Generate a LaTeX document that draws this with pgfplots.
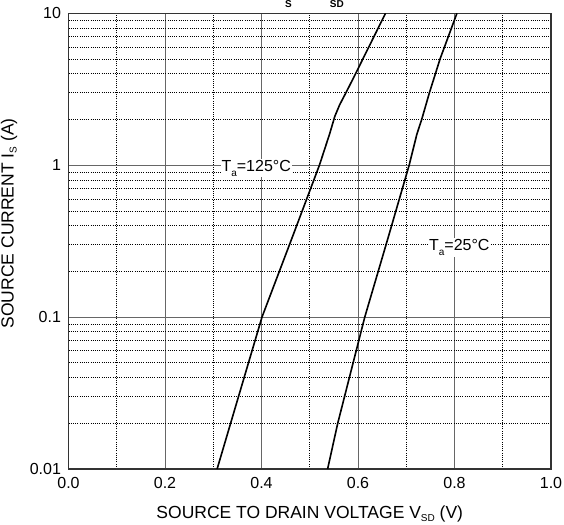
\documentclass[border=0pt]{standalone}
\usepackage{pgfplots}
\pgfplotsset{compat=1.18}
\usepackage{fontspec}
\setmainfont{Liberation Sans}

\begin{document}
\begin{tikzpicture}
\begin{axis}[
    name=ax,
    scale only axis,
    width=482.5pt, height=455.7pt,
    ymode=log,
    xmin=0, xmax=1, ymin=0.01, ymax=10,
    xtick={0,0.2,0.4,0.6,0.8,1},
    xticklabels={0.0,0.2,0.4,0.6,0.8,1.0},
    minor xtick={0.1,0.3,0.5,0.7,0.9},
    ytick={0.01,0.1,1,10},
    yticklabels={0.01,0.1,1,10},
    minor ytick={0.02,0.03,0.04,0.05,0.06,0.07,0.08,0.09,
                 0.2,0.3,0.4,0.5,0.6,0.7,0.8,0.9,
                 2,3,4,5,6,7,8,9},
    grid=both,
    major grid style={line width=0.9pt, black!60},
    minor grid style={line width=0.7pt, black, dash pattern=on 1pt off 1.2pt},
    major tick length=0pt, minor tick length=0pt,
    axis line style={line width=1.2pt, black!80},
    tick label style={font=\fontsize{16}{16}\selectfont},
    /pgf/number format/assume math mode=true,
    xticklabel style={yshift=-5pt},
    yticklabel style={xshift=-4pt},
]
% Ta = 125 C
\addplot[black, line width=1.6pt] coordinates {
    (0.308,0.01) (0.401,0.1) (0.466,0.35) (0.520,1) (0.541,1.6)
    (0.552,2.1) (0.562,2.5) (0.575,3) (0.595,4) (0.610,5) (0.657,10)
};
% Ta = 25 C
\addplot[black, line width=1.6pt] coordinates {
    (0.537,0.01) (0.558,0.02) (0.614,0.1) (0.662,0.33) (0.706,1)
    (0.722,1.6) (0.732,2) (0.748,3) (0.770,5) (0.805,10)
};
\node[fill=white, inner sep=1pt, anchor=base, font=\fontsize{16}{16}\selectfont]
    at ([yshift=-5.8pt]axis cs:0.389,1) {T\raisebox{-5pt}{\fontsize{10}{10}\selectfont a}=125°C};
\node[fill=white, inner sep=1pt, anchor=base, font=\fontsize{16}{16}\selectfont]
    at ([yshift=-5.8pt]axis cs:0.81,0.3) {T\raisebox{-5pt}{\fontsize{10}{10}\selectfont a}=25°C};
\end{axis}
% axis titles
\path (ax.south west) ++(241.25pt,-49pt) node[anchor=base, font=\fontsize{17.5}{17.5}\selectfont]
    {SOURCE TO DRAIN VOLTAGE V\raisebox{-3pt}{\fontsize{10}{10}\selectfont SD} (V)};
\path (ax.south west) ++(-59.5pt,245.6pt) node[rotate=90, font=\fontsize{17.5}{17.5}\selectfont]
    {SOURCE CURRENT I\raisebox{-3pt}{\fontsize{10}{10}\selectfont S} (A)};
% cut-off chart title (only its subscripts show)
\path (ax.north west) ++(220pt,6pt) node[anchor=base, font=\fontsize{10}{10}\selectfont\bfseries] {S};
\path (ax.north west) ++(268.3pt,6pt) node[anchor=base, font=\fontsize{10}{10}\selectfont\bfseries] {SD};
\pgfresetboundingbox
\path ([xshift=-68.5pt,yshift=-55pt]ax.south west) rectangle ([xshift=13pt,yshift=13.3pt]ax.north east);
\end{tikzpicture}
\end{document}
